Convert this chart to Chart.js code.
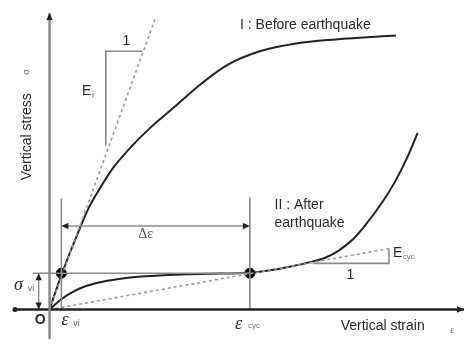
<!DOCTYPE html>
<html lang="en">
<head>
<meta charset="UTF-8">
<title>Vertical stress - strain before and after earthquake</title>
<script src="https://cdn.jsdelivr.net/npm/chart.js"></script>
<style>
  body { margin: 0; background: #fff; }
</style>
</head>
<body>
<canvas id="myChart" width="470" height="345"></canvas>
<script>
// Curve I : before earthquake (strain, stress)
const beforeStrain = [0, 12, 32, 40, 52, 65, 82, 102, 125, 155, 180, 213, 250, 290, 351];
const beforeStress = [0, 35, 86, 104, 125, 145, 165, 185, 205, 231, 249, 263, 271, 275, 279];

// Curve II : after earthquake
const afterStrain = [0, 10, 20, 33, 50, 70, 90, 120, 160, 203, 230, 240, 263, 280, 293, 307, 320, 337, 350, 363, 373];
const afterStress = [0, 9, 16, 22.5, 27.5, 31, 33.3, 35.2, 36.4, 37.5, 41, 43, 48, 53, 60, 71, 86, 109, 130, 156, 180];

// key values
const epsVi = 12, epsCyc = 203, sigmaVi = 37;

// tangent E_i and secant E_cyc (dashed)
const tangentStrain = [0, 107];
const tangentStress = [0, 296];
const secantStrain = [0, 344];
const secantStress = [0, 62];

// slope triangles
const triIStrain = [57, 57, 94];
const triIStress = [167, 263, 263];
const triCycStrain = [267, 344, 344];
const triCycStress = [47, 47, 62];

// axes extents
const xAxisStrain = [-35, 420];
const yAxisStress = [-30, 302];

const pts = (xs, ys) => xs.map((x, i) => ({ x: x, y: ys[i] }));

const solid = (data, color, width) => ({
    data: data, showLine: true, borderColor: color, borderWidth: width,
    pointRadius: 0, fill: false, cubicInterpolationMode: 'monotone'
});
const dashed = (data) => ({
    data: data, showLine: true, borderColor: '#9a9a9a', borderWidth: 1.6,
    borderDash: [3, 3], pointRadius: 0, fill: false
});

const GREY = '#8a8a8a';
const datasets = [
    solid(pts([0, 0], yAxisStress), GREY, 2.5),
    solid(pts(xAxisStrain, [0, 0]), '#222', 2.5),
    solid(pts([epsVi, epsVi], [0, 113]), GREY, 1.6),
    solid(pts([epsCyc, epsCyc], [0, 114]), GREY, 1.6),
    solid(pts([epsVi + 2, epsCyc - 2], [85, 85]), GREY, 1.6),
    solid(pts([-17, epsCyc], [sigmaVi, sigmaVi]), GREY, 1.6),
    solid(pts([-11, -11], [1, sigmaVi - 1]), GREY, 1.4),
    solid(pts(triIStrain, triIStress), GREY, 1.6),
    solid(pts(triCycStrain, triCycStress), GREY, 1.6),
    dashed(pts(tangentStrain, tangentStress)),
    dashed(pts(secantStrain, secantStress)),
    solid(pts(beforeStrain, beforeStress), '#222', 2),
    solid(pts(afterStrain, afterStress), '#222', 2),
    {
        data: pts([epsVi, epsCyc], [sigmaVi, sigmaVi]), showLine: false,
        pointRadius: 5, pointBackgroundColor: '#000', pointBorderColor: '#000'
    }
];

// arrow heads: [strain, stress, direction]
const arrows = [
    [0, 302, 'up'], [-11, sigmaVi, 'up'], [-11, 0, 'down'],
    [epsVi, 85, 'left'], [epsCyc, 85, 'right'], [420, 0, 'right']
];

const SANS = '"Liberation Sans", Arial, sans-serif';
const SERIF = '"Liberation Serif", "Times New Roman", serif';
const notes = [
    { text: 'I : Before earthquake', x: 193, y: 290, font: '14px ' + SANS },
    { text: 'II : After', x: 228, y: 106, font: '14px ' + SANS },
    { text: 'earthquake', x: 228, y: 88, font: '14px ' + SANS },
    { text: '1', x: 74, y: 273, font: '14px ' + SANS },
    { text: 'E', x: 33, y: 222, font: '14px ' + SANS },
    { text: 'i', x: 43, y: 218, font: '9px ' + SANS, color: '#666' },
    { text: 'Δε', x: 90, y: 77, font: '14px ' + SERIF, color: '#555' },
    { text: 'E', x: 348, y: 57, font: '14px ' + SANS },
    { text: 'cyc', x: 358, y: 54, font: '8px ' + SANS, color: '#777' },
    { text: '1', x: 301, y: 35, font: '14px ' + SANS },
    { text: 'σ', x: -36, y: 25, font: 'italic 18px ' + SERIF },
    { text: 'vi', x: -22, y: 21, font: '9px ' + SANS, color: '#666' },
    { text: 'O', x: -15, y: -11, font: 'bold 14px ' + SANS },
    { text: 'ε', x: 12, y: -11, font: 'italic 18px ' + SERIF },
    { text: 'vi', x: 24, y: -14, font: '9px ' + SANS, color: '#666' },
    { text: 'ε', x: 188, y: -15, font: 'italic 18px ' + SERIF },
    { text: 'cyc', x: 201, y: -17, font: '8px ' + SANS, color: '#777' },
    { text: 'Vertical strain', x: 295, y: -17, font: '14px ' + SANS },
    { text: 'ε', x: 406, y: -21, font: '9px ' + SANS, color: '#777' },
    { text: 'Vertical stress', x: -23, y: 176, font: '14px ' + SANS, rotate: true },
    { text: 'σ', x: -23, y: 242, font: '9px ' + SANS, color: '#777', rotate: true }
];

const annotations = {
    id: 'annotations',
    afterDatasetsDraw(chart) {
        const ctx = chart.ctx;
        const xs = chart.scales.x, ys = chart.scales.y;
        ctx.save();
        ctx.fillStyle = '#222';
        arrows.forEach(([sx, sy, dir]) => {
            const px = xs.getPixelForValue(sx), py = ys.getPixelForValue(sy);
            const L = 7, W = 3.2;
            ctx.beginPath();
            if (dir === 'up') { ctx.moveTo(px, py); ctx.lineTo(px - W, py + L); ctx.lineTo(px + W, py + L); }
            if (dir === 'down') { ctx.moveTo(px, py); ctx.lineTo(px - W, py - L); ctx.lineTo(px + W, py - L); }
            if (dir === 'left') { ctx.moveTo(px, py); ctx.lineTo(px + L, py - W); ctx.lineTo(px + L, py + W); }
            if (dir === 'right') { ctx.moveTo(px, py); ctx.lineTo(px - L, py - W); ctx.lineTo(px - L, py + W); }
            ctx.closePath();
            ctx.fill();
        });
        // dot at the left end of the strain axis
        ctx.beginPath();
        ctx.arc(xs.getPixelForValue(xAxisStrain[0]), ys.getPixelForValue(0), 2.5, 0, Math.PI * 2);
        ctx.fill();

        ctx.textBaseline = 'middle';
        notes.forEach(n => {
            const px = xs.getPixelForValue(n.x), py = ys.getPixelForValue(n.y);
            ctx.font = n.font;
            ctx.fillStyle = n.color || '#2a2a2a';
            if (n.rotate) {
                ctx.save();
                ctx.translate(px, py);
                ctx.rotate(-Math.PI / 2);
                ctx.textAlign = 'center';
                ctx.fillText(n.text, 0, 0);
                ctx.restore();
            } else {
                ctx.textAlign = 'left';
                ctx.fillText(n.text, px, py);
            }
        });
        ctx.restore();
    }
};

new Chart(document.getElementById('myChart'), {
    type: 'scatter',
    data: { datasets: datasets },
    options: {
        responsive: false,
        animation: false,
        layout: { padding: { left: 15, top: 12, right: 0, bottom: 0 } },
        scales: {
            x: { type: 'linear', display: false, min: -35, max: 420 },
            y: { type: 'linear', display: false, min: -30, max: 303 }
        },
        plugins: {
            legend: { display: false },
            tooltip: { enabled: false }
        }
    },
    plugins: [annotations]
});
</script>
</body>
</html>
